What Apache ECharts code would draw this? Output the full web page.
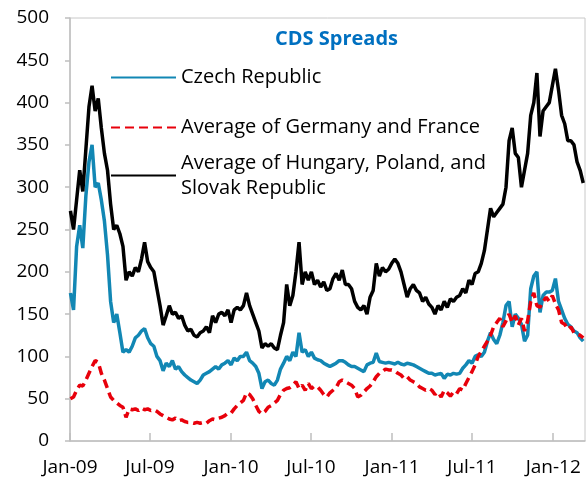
<!DOCTYPE html>
<html>
<head>
<meta charset="utf-8">
<script src="https://cdn.jsdelivr.net/npm/echarts@6/dist/echarts.min.js"></script>
<style>
  html, body { margin: 0; padding: 0; background: #fff; }
  #chart { width: 588px; height: 482px; }
</style>
</head>
<body>
<div id="chart"></div>
<script>
  // weekly observations, first one on 2 Jan 2009
  var startDate = [2009, 0, 2];
  var czech = [175, 155, 230, 255, 228, 290, 330, 350, 300, 305, 285, 260, 220, 165, 140, 150, 128, 105, 108, 105,
    112, 122, 125, 130, 133, 122, 115, 112, 100, 95, 83, 92, 88, 95, 85, 88, 82, 78, 75, 72,
    70, 68, 72, 78, 80, 82, 85, 88, 85, 90, 92, 95, 90, 98, 95, 100, 100, 105, 95, 92,
    88, 80, 62, 70, 72, 68, 66, 72, 85, 92, 100, 95, 105, 100, 128, 105, 108, 100, 105, 98,
    96, 95, 92, 90, 88, 90, 92, 95, 95, 93, 90, 88, 88, 86, 84, 82, 90, 92, 93, 104,
    94, 93, 92, 93, 92, 91, 93, 91, 90, 92, 91, 90, 88, 86, 84, 82, 80, 80, 78, 79,
    80, 74, 79, 78, 80, 79, 80, 86, 90, 95, 92, 100, 102, 100, 105, 118, 128, 120, 115, 125,
    140, 160, 165, 135, 150, 145, 138, 118, 125, 180, 195, 200, 152, 172, 176, 176, 178, 192, 165, 155,
    145, 138, 135, 130, 128, 122, 118];
  var deFr = [50, 52, 60, 66, 65, 72, 80, 88, 95, 93, 80, 72, 62, 52, 48, 45, 42, 40, 28, 38,
    37, 38, 36, 39, 37, 38, 36, 37, 35, 32, 30, 28, 26, 25, 27, 24, 25, 23, 22, 22,
    21, 22, 21, 22, 21, 24, 26, 25, 27, 28, 30, 33, 33, 38, 42, 45, 48, 57, 55, 50,
    42, 35, 32, 35, 40, 42, 45, 48, 55, 60, 62, 63, 66, 70, 62, 66, 60, 68, 62, 65,
    64, 60, 55, 52, 57, 60, 63, 70, 72, 70, 68, 66, 62, 52, 54, 58, 62, 65, 70, 76,
    80, 82, 85, 84, 84, 83, 80, 78, 74, 76, 72, 70, 68, 64, 62, 60, 62, 60, 55, 58,
    52, 60, 57, 53, 58, 56, 62, 60, 68, 75, 82, 90, 100, 106, 112, 118, 125, 135, 140, 145,
    135, 142, 150, 140, 148, 137, 145, 130, 142, 165, 175, 160, 158, 165, 170, 165, 172, 162, 155, 140,
    138, 132, 135, 128, 126, 125, 122];
  var hpsk = [272, 250, 285, 320, 295, 345, 395, 420, 390, 405, 370, 340, 320, 280, 250, 255, 245, 230, 190, 200,
    195, 205, 200, 215, 235, 212, 205, 200, 180, 160, 137, 148, 160, 150, 152, 145, 148, 137, 130, 132,
    125, 123, 128, 130, 135, 128, 148, 140, 150, 152, 148, 155, 140, 155, 158, 155, 160, 175, 160, 150,
    140, 130, 110, 115, 112, 115, 110, 108, 125, 140, 185, 160, 172, 200, 235, 185, 200, 190, 200, 185,
    190, 182, 188, 178, 180, 192, 198, 190, 202, 185, 185, 180, 165, 158, 155, 160, 150, 170, 178, 210,
    195, 205, 200, 203, 210, 215, 210, 200, 185, 170, 180, 185, 178, 175, 165, 170, 162, 158, 150, 160,
    155, 165, 158, 168, 165, 170, 172, 180, 175, 190, 185, 198, 200, 210, 225, 250, 275, 265, 270, 275,
    280, 300, 355, 370, 340, 335, 300, 320, 340, 385, 400, 435, 360, 390, 395, 400, 420, 440, 415, 385,
    375, 355, 355, 350, 330, 320, 305];
  var yTicks = [0, 50, 100, 150, 200, 250, 300, 350, 400, 450, 500];
  var monthNames = ['Jan', 'Feb', 'Mar', 'Apr', 'May', 'Jun', 'Jul', 'Aug', 'Sep', 'Oct', 'Nov', 'Dec'];
  var labelDates = [[2009, 0], [2009, 6], [2010, 0], [2010, 6], [2011, 0], [2011, 6], [2012, 0]];

  // x axis runs in days since 1 Jan 2009
  var DAY = 86400000;
  var origin = Date.UTC(2009, 0, 1);
  function dayOf(y, m, d) { return Math.round((Date.UTC(y, m, d) - origin) / DAY); }

  var days = [];
  for (var i = 0; i < czech.length; i++) {
    days.push(dayOf(startDate[0], startDate[1], startDate[2] + 7 * i));
  }
  function pairs(vals) {
    return vals.map(function (v, i) { return [days[i], v]; });
  }
  var tickValues = labelDates.map(function (d) { return dayOf(d[0], d[1], 1); });

  var font = '"Open Sans", Lato, sans-serif';
  var hpskName = 'Average of Hungary, Poland, and Slovak Republic';

  var chart = echarts.init(document.getElementById('chart'));
  var legendBase = {
    orient: 'vertical',
    left: 110,
    padding: 0,
    itemWidth: 65,
    itemHeight: 14,
    // hide the marker dot, keep the line
    itemStyle: { color: 'rgba(0,0,0,0)', borderWidth: 0 },
    textStyle: { fontFamily: font, fontSize: 20, color: '#000', lineHeight: 25 }
  };
  var option = {
    animation: false,
    title: {
      text: 'CDS Spreads',
      left: 275,
      top: 29,
      padding: 0,
      textStyle: { fontFamily: font, fontSize: 20, fontWeight: 'bold', color: '#0070c0' }
    },
    legend: [
      Object.assign({}, legendBase, { top: 65, data: ['Czech Republic'] }),
      Object.assign({}, legendBase, { top: 115, data: ['Average of Germany and France'] }),
      Object.assign({}, legendBase, {
        top: 138,
        data: [hpskName],
        formatter: function () { return 'Average of Hungary, Poland, and\nSlovak Republic'; },
        textStyle: Object.assign({}, legendBase.textStyle, { padding: [25, 0, 0, 0] })
      })
    ],
    grid: {
      left: 70, right: 3, top: 18, bottom: 41,
      show: true, borderColor: '#c8c8c8', borderWidth: 1
    },
    xAxis: {
      type: 'value',
      min: 0,
      max: dayOf(2012, 2, 13),
      axisLine: { lineStyle: { color: '#bfbfbf', width: 1.5 } },
      axisTick: { show: true, inside: true, length: 8, customValues: tickValues, lineStyle: { color: '#bfbfbf', width: 1.5 } },
      axisLabel: {
        customValues: tickValues,
        margin: 17,
        fontFamily: font, fontSize: 19, color: '#000',
        formatter: function (v) {
          var d = new Date(origin + v * DAY);
          return monthNames[d.getUTCMonth()] + '-' + String(d.getUTCFullYear()).slice(2);
        }
      },
      splitLine: { show: false }
    },
    yAxis: {
      type: 'value',
      min: yTicks[0],
      max: yTicks[yTicks.length - 1],
      interval: 50,
      axisLine: { show: true, lineStyle: { color: '#bfbfbf', width: 1.5 } },
      axisTick: { show: true, length: 5, lineStyle: { color: '#bfbfbf', width: 1.5 } },
      axisLabel: { margin: 21, fontFamily: font, fontSize: 19, color: '#000' },
      splitLine: { show: false }
    },
    series: [
      {
        name: 'Czech Republic',
        type: 'line',
        data: pairs(czech),
        showSymbol: false,
        symbol: 'none',
        lineStyle: { color: '#1287b4', width: 3.5 },
        itemStyle: { color: '#1287b4' }
      },
      {
        name: 'Average of Germany and France',
        type: 'line',
        data: pairs(deFr),
        showSymbol: false,
        symbol: 'none',
        lineStyle: { color: '#e8000b', width: 3.5, type: [9, 5] },
        itemStyle: { color: '#e8000b' }
      },
      {
        name: hpskName,
        type: 'line',
        data: pairs(hpsk),
        showSymbol: false,
        symbol: 'none',
        lineStyle: { color: '#000', width: 3.5 },
        itemStyle: { color: '#000' }
      }
    ]
  };
  chart.setOption(option);
</script>
</body>
</html>
